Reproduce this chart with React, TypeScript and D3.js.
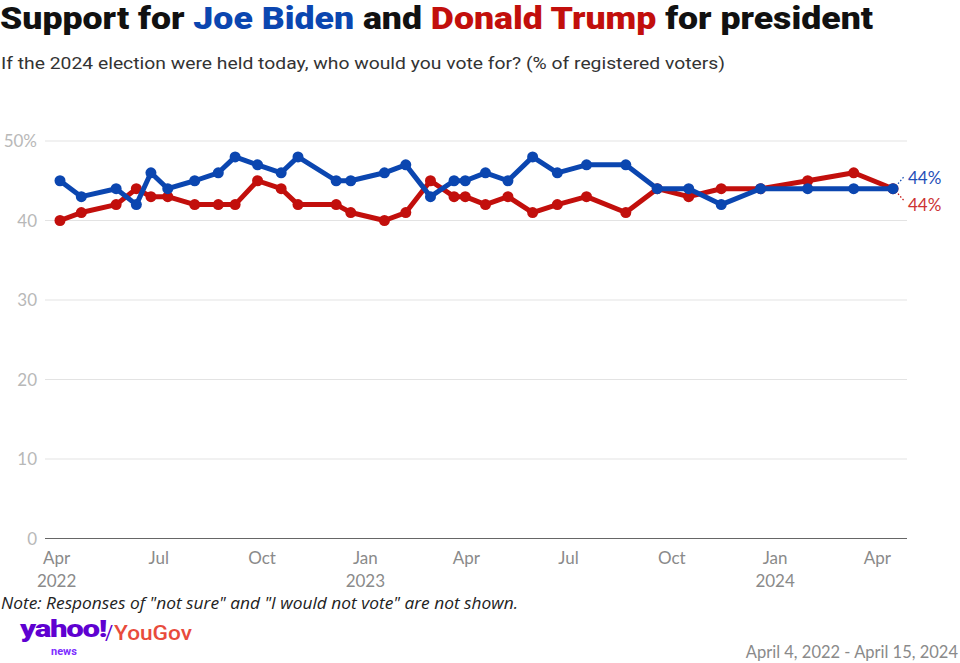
import React from "react";
import * as d3 from "d3";

const dates = [
  "2022-04-04","2022-04-23","2022-05-24","2022-06-11","2022-06-24","2022-07-09",
  "2022-08-02","2022-08-23","2022-09-07","2022-09-27","2022-10-18","2022-11-02",
  "2022-12-06","2022-12-19","2023-01-18","2023-02-06","2023-02-28","2023-03-21",
  "2023-03-31","2023-04-18","2023-05-08","2023-05-30","2023-06-21","2023-07-17",
  "2023-08-21","2023-09-18","2023-10-16","2023-11-14","2023-12-19","2024-01-30",
  "2024-03-11","2024-04-15",
];
const biden = [45,43,44,42,46,44,45,46,48,47,46,48,45,45,46,47,43,45,45,46,45,48,46,47,47,44,44,42,44,44,44,44];
const trump = [40,41,42,44,43,43,42,42,42,45,44,42,42,41,40,41,45,43,43,42,43,41,42,43,41,44,43,44,44,45,46,44];
const yTicks = [0,10,20,30,40,50];
const xTickDates = ["2022-04-01","2022-07-01","2022-10-01","2023-01-01","2023-04-01","2023-07-01","2023-10-01","2024-01-01","2024-04-01"];

const BLUE = "#0b46b0";
const RED = "#c20f0c";

export default function App() {
  const parse = d3.utcParse("%Y-%m-%d");
  const ds = dates.map((d) => parse(d)!);
  const x = d3.scaleUtc().domain([ds[0], ds[ds.length - 1]]).range([60, 893]);
  const y = d3.scaleLinear().domain([0, 50]).range([538.5, 141]);
  const line = d3.line<[Date, number]>().x((d) => x(d[0])).y((d) => y(d[1]));
  const bData: [Date, number][] = ds.map((d, i) => [d, biden[i]]);
  const tData: [Date, number][] = ds.map((d, i) => [d, trump[i]]);
  const fmtM = d3.utcFormat("%b");
  const fmtY = d3.utcFormat("%Y");
  const last = ds.length - 1;
  const lx = x(ds[last]);
  const ly = y(biden[last]);

  return (
    <svg width={960} height={663} style={{ position: "absolute", left: 0, top: 0, background: "#fff" }}
      fontFamily="Lato, 'Noto Sans', sans-serif">
      <text x={0} y={29} fontFamily="Roboto, sans-serif" fontWeight={900} fontSize={31}
        textLength={873} lengthAdjust="spacingAndGlyphs" fill="#111">
        Support for <tspan fill={BLUE}>Joe Biden</tspan> and <tspan fill={RED}>Donald Trump</tspan> for president
      </text>
      <text x={1} y={69} fontFamily="Roboto, sans-serif" fontSize={17} fill="#333"
        textLength={724} lengthAdjust="spacingAndGlyphs">
        If the 2024 election were held today, who would you vote for? (% of registered voters)
      </text>

      {yTicks.map((t) => (
        <g key={t}>
          <line x1={45} x2={907} y1={y(t)} y2={y(t)} stroke={t === 0 ? "#666" : "#e3e3e3"} strokeWidth={t === 0 ? 1.2 : 1} />
          <text x={37} y={y(t)} dy="0.36em" textAnchor="end" fontSize={17} fill="#b8b8b8">
            {t === 50 ? "50%" : t}
          </text>
        </g>
      ))}

      {xTickDates.map((s, i) => {
        const d = parse(s)!;
        const m = fmtM(d);
        const showYear = i === 0 || m === "Jan";
        return (
          <g key={s}>
            <text x={x(d)} y={564} textAnchor="middle" fontSize={17} fill="#8a8a8a">{m}</text>
            {showYear && <text x={x(d)} y={587} textAnchor="middle" fontSize={17} fill="#8a8a8a">{fmtY(d)}</text>}
          </g>
        );
      })}

      <path d={line(tData)!} fill="none" stroke={RED} strokeWidth={5} strokeLinejoin="round" />
      {tData.map((d, i) => (
        <circle key={"t" + i} cx={x(d[0])} cy={y(d[1])} r={5.5} fill={RED} />
      ))}
      <path d={line(bData)!} fill="none" stroke={BLUE} strokeWidth={5} strokeLinejoin="round" />
      {bData.map((d, i) => (
        <circle key={"b" + i} cx={x(d[0])} cy={y(d[1])} r={5.5} fill={BLUE} />
      ))}

      <line x1={lx + 5} y1={ly - 5} x2={lx + 11} y2={ly - 12} stroke={BLUE} strokeWidth={1.2} strokeDasharray="1.5,2" />
      <line x1={lx + 5} y1={ly + 5} x2={lx + 11} y2={ly + 12} stroke={RED} strokeWidth={1.2} strokeDasharray="1.5,2" />
      <text x={908} y={y(biden[last]) - 11} dy="0.36em" fontSize={17} fill="#1f4fb8">{biden[last]}%</text>
      <text x={908} y={y(trump[last]) + 16} dy="0.36em" fontSize={17} fill="#cc3333">{trump[last]}%</text>

      <text x={1} y={609} fontSize={15.5} fontStyle="italic" fill="#222" fontFamily="'Open Sans', sans-serif"
        textLength={517} lengthAdjust="spacingAndGlyphs">
        Note: Responses of "not sure" and "I would not vote" are not shown.
      </text>

      <text x={20} y={637} fontFamily="Roboto, sans-serif" fontWeight={900} fontSize={24} fill="#5f01d1"
        letterSpacing={-1} textLength={86} lengthAdjust="spacingAndGlyphs">yahoo!</text>
      <text x={51} y={655} fontFamily="Roboto, sans-serif" fontWeight={700} fontSize={11} fill="#7d2eff">news</text>
      <text x={105} y={640} fontFamily="Roboto, sans-serif" fontSize={20} fill="#5f01d1">/</text>
      <text x={114} y={640} fontFamily="Roboto, sans-serif" fontWeight={500} fontSize={20} fill="#e84b3c"
        textLength={78} lengthAdjust="spacingAndGlyphs">YouGov</text>

      <text x={958} y={658} textAnchor="end" fontSize={16.5} fill="#8a8a8a">April 4, 2022 - April 15, 2024</text>
    </svg>
  );
}
